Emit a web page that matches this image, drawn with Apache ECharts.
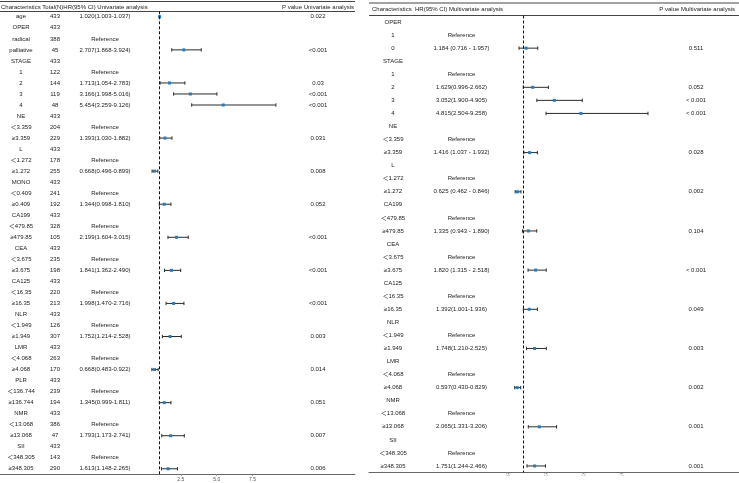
<!DOCTYPE html>
<html>
<head>
<meta charset="utf-8">
<script src="https://cdn.jsdelivr.net/npm/echarts@6/dist/echarts.min.js"></script>
<style>
  html, body { margin: 0; padding: 0; background: #fff; }
  #chart { width: 739px; height: 483px; }
</style>
</head>
<body>
<div id="chart"></div>
<script>
// ---- univariate table ----
const uniLabels = ['age', 'OPER', 'radical', 'palliative', 'STAGE', '1', '2', '3', '4',
  'NE', '＜3.359', '≥3.359', 'L', '＜1.272', '≥1.272', 'MONO', '＜0.409', '≥0.409',
  'CA199', '＜479.85', '≥479.85', 'CEA', '＜3.675', '≥3.675', 'CA125', '＜16.35', '≥16.35',
  'NLR', '＜1.949', '≥1.949', 'LMR', '＜4.068', '≥4.068', 'PLR', '＜136.744', '≥136.744',
  'NMR', '＜13.068', '≥13.068', 'SII', '＜348.305', '≥348.305'];
const uniTotal = [433, 433, 388, 45, 433, 122, 144, 119, 48,
  433, 204, 229, 433, 178, 255, 433, 241, 192,
  433, 328, 105, 433, 235, 198, 433, 220, 213,
  433, 126, 307, 433, 263, 170, 433, 239, 194,
  433, 386, 47, 433, 143, 290];
const uniHR = [1.020, null, null, 2.707, null, null, 1.713, 3.166, 5.454,
  null, null, 1.393, null, null, 0.668, null, null, 1.344,
  null, null, 2.199, null, null, 1.841, null, null, 1.998,
  null, null, 1.752, null, null, 0.668, null, null, 1.345,
  null, null, 1.793, null, null, 1.613];
const uniLow = [1.003, null, null, 1.868, null, null, 1.054, 1.998, 3.259,
  null, null, 1.030, null, null, 0.496, null, null, 0.998,
  null, null, 1.604, null, null, 1.362, null, null, 1.470,
  null, null, 1.214, null, null, 0.483, null, null, 0.999,
  null, null, 1.173, null, null, 1.148];
const uniHigh = [1.037, null, null, 3.924, null, null, 2.783, 5.016, 9.126,
  null, null, 1.882, null, null, 0.899, null, null, 1.810,
  null, null, 3.015, null, null, 2.490, null, null, 2.716,
  null, null, 2.528, null, null, 0.922, null, null, 1.811,
  null, null, 2.741, null, null, 2.265];
const uniHRText = ['1.020(1.003-1.037)', '', 'Reference', '2.707(1.868-3.924)', '', 'Reference',
  '1.713(1.054-2.783)', '3.166(1.998-5.016)', '5.454(3.259-9.126)',
  '', 'Reference', '1.393(1.030-1.882)', '', 'Reference', '0.668(0.496-0.899)',
  '', 'Reference', '1.344(0.998-1.810)', '', 'Reference', '2.199(1.604-3.015)',
  '', 'Reference', '1.841(1.362-2.490)', '', 'Reference', '1.998(1.470-2.716)',
  '', 'Reference', '1.752(1.214-2.528)', '', 'Reference', '0.668(0.483-0.922)',
  '', 'Reference', '1.345(0.999-1.811)', '', 'Reference', '1.793(1.173-2.741)',
  '', 'Reference', '1.613(1.148-2.265)'];
const uniP = ['0.022', '', '', '<0.001', '', '', '0.03', '<0.001', '<0.001',
  '', '', '0.031', '', '', '0.008', '', '', '0.052',
  '', '', '<0.001', '', '', '<0.001', '', '', '<0.001',
  '', '', '0.003', '', '', '0.014', '', '', '0.051',
  '', '', '0.007', '', '', '0.006'];
const uniTicks = [2.5, 5, 7.5];

// ---- multivariate table ----
const multiLabels = ['OPER', '1', '0', 'STAGE', '1', '2', '3', '4',
  'NE', '＜3.359', '≥3.359', 'L', '＜1.272', '≥1.272', 'CA199', '＜479.85', '≥479.85',
  'CEA', '＜3.675', '≥3.675', 'CA125', '＜16.35', '≥16.35', 'NLR', '＜1.949', '≥1.949',
  'LMR', '＜4.068', '≥4.068', 'NMR', '＜13.068', '≥13.068', 'SII', '＜348.305', '≥348.305'];
const multiHR = [null, null, 1.184, null, null, 1.629, 3.052, 4.815,
  null, null, 1.416, null, null, 0.625, null, null, 1.335,
  null, null, 1.820, null, null, 1.392, null, null, 1.748,
  null, null, 0.597, null, null, 2.065, null, null, 1.751];
const multiLow = [null, null, 0.716, null, null, 0.996, 1.900, 2.504,
  null, null, 1.037, null, null, 0.462, null, null, 0.943,
  null, null, 1.315, null, null, 1.001, null, null, 1.210,
  null, null, 0.430, null, null, 1.331, null, null, 1.244];
const multiHigh = [null, null, 1.957, null, null, 2.662, 4.905, 9.258,
  null, null, 1.932, null, null, 0.846, null, null, 1.890,
  null, null, 2.518, null, null, 1.936, null, null, 2.525,
  null, null, 0.829, null, null, 3.206, null, null, 2.466];
const multiHRText = ['', 'Reference', '1.184 (0.716 - 1.957)', '', 'Reference',
  '1.629(0.996-2.662)', '3.052(1.900-4.905)', '4.815(2.504-9.258)',
  '', 'Reference', '1.416 (1.037 - 1.932)', '', 'Reference', '0.625 (0.462 - 0.846)',
  '', 'Reference', '1.335 (0.943 - 1.890)', '', 'Reference', '1.820 (1.315 - 2.518)',
  '', 'Reference', '1.392(1.001-1.936)', '', 'Reference', '1.748(1.210-2.525)',
  '', 'Reference', '0.597(0.430-0.829)', '', 'Reference', '2.065(1.331-3.206)',
  '', 'Reference', '1.751(1.244-2.466)'];
const multiP = ['', '', '0.511', '', '', '0.052', '< 0.001', '< 0.001',
  '', '', '0.028', '', '', '0.002', '', '', '0.104',
  '', '', '< 0.001', '', '', '0.049', '', '', '0.003',
  '', '', '0.002', '', '', '0.001', '', '', '0.001'];
const multiTicks = [0, 2.5, 5, 7.5];

const FONT = '"Liberation Sans", Arial, "Noto Sans CJK SC", sans-serif';
const TXT = '#222';
const BLUE = '#2a7ab8';

// panel layout (pixels)
const panels = [
  { left: 0, width: 355, top: 11.3, height: 463, refX: 159.3, pxPerUnit: 14.35,
    cols: [21, 55, 105, 318], tickSize: 5, tickColor: '#555', tickMargin: 3 },
  { left: 369, width: 370, top: 15.5, height: 457, refX: 523.3, pxPerUnit: 15.1,
    cols: [393, 461.5, 696], tickSize: 3, tickColor: '#999', tickMargin: 1 }
];

function axisRange(p) {
  const min = 1 - (p.refX - p.left) / p.pxPerUnit;
  return { min: min, max: min + p.width / p.pxPerUnit };
}

function forestData(hr, lo, hi) {
  const out = [];
  hr.forEach((v, i) => { if (v != null) out.push([i, v, lo[i], hi[i]]); });
  return out;
}

function forestItem(params, api) {
  const row = api.value(0);
  const pm = api.coord([api.value(1), row]);
  const pl = api.coord([api.value(2), row]);
  const ph = api.coord([api.value(3), row]);
  const y = pm[1], c = 1.7;
  const st = { stroke: '#2b2b2b', lineWidth: 1 };
  return {
    type: 'group',
    children: [
      { type: 'line', shape: { x1: pl[0], y1: y, x2: ph[0], y2: y }, style: st },
      { type: 'line', shape: { x1: pl[0], y1: y - c, x2: pl[0], y2: y + c }, style: st },
      { type: 'line', shape: { x1: ph[0], y1: y - c, x2: ph[0], y2: y + c }, style: st },
      { type: 'rect', shape: { x: pm[0] - 1.5, y: y - 1.5, width: 3, height: 3 }, style: { fill: BLUE } }
    ]
  };
}

function textSeries(gridIndex, cols, columns) {
  const rows = columns[0].map((_, i) => [i, 1]);
  return {
    type: 'custom',
    xAxisIndex: gridIndex,
    yAxisIndex: gridIndex,
    silent: true,
    clip: false,
    encode: { x: 1, y: 0 },
    data: rows,
    renderItem: function (params, api) {
      const i = params.dataIndex;
      const y = api.coord([1, i])[1];
      return {
        type: 'group',
        children: columns.map((col, k) => ({
          type: 'text',
          x: cols[k],
          y: y,
          style: {
            text: String(col[i]),
            align: 'center',
            verticalAlign: 'middle',
            fontSize: 6,
            fontFamily: FONT,
            fill: TXT
          }
        }))
      };
    }
  };
}

const chart = echarts.init(document.getElementById('chart'), null, { renderer: 'canvas' });

const grids = panels.map(p => ({ left: p.left, top: p.top, width: p.width, height: p.height, containLabel: false }));
const xAxes = panels.map((p, k) => {
  const r = axisRange(p);
  const ticks = k === 0 ? uniTicks : multiTicks;
  return {
    type: 'value', gridIndex: k, min: r.min, max: r.max,
    splitLine: { show: false },
    axisLine: { show: true, lineStyle: { color: '#666', width: 1 } },
    axisTick: { show: true, length: 1.5, customValues: ticks, lineStyle: { color: '#888' } },
    axisLabel: {
      customValues: ticks, fontSize: p.tickSize, color: p.tickColor, margin: p.tickMargin,
      fontFamily: FONT, formatter: v => v.toFixed(1)
    }
  };
});
const yAxes = [uniLabels, multiLabels].map((labels, k) => ({
  type: 'category', gridIndex: k, inverse: true,
  data: labels.map((_, i) => i), show: false
}));

const refLine = {
  silent: true, symbol: 'none', label: { show: false },
  lineStyle: { type: [3, 2], color: '#111', width: 1 },
  data: [{ xAxis: 1 }]
};

const series = [
  {
    type: 'custom', xAxisIndex: 0, yAxisIndex: 0, silent: true, clip: false,
    encode: { x: [1, 2, 3], y: 0 },
    data: forestData(uniHR, uniLow, uniHigh),
    renderItem: forestItem,
    markLine: refLine
  },
  {
    type: 'custom', xAxisIndex: 1, yAxisIndex: 1, silent: true, clip: false,
    encode: { x: [1, 2, 3], y: 0 },
    data: forestData(multiHR, multiLow, multiHigh),
    renderItem: forestItem,
    markLine: refLine
  },
  textSeries(0, panels[0].cols, [uniLabels, uniTotal, uniHRText, uniP]),
  textSeries(1, panels[1].cols, [multiLabels, multiHRText, multiP])
];

const ruleStyle = { stroke: '#444', lineWidth: 1 };
const headStyle = { fontSize: 6, fontFamily: FONT, fill: TXT, verticalAlign: 'middle' };

chart.setOption({
  backgroundColor: '#fff',
  animation: false,
  grid: grids,
  xAxis: xAxes,
  yAxis: yAxes,
  series: series,
  graphic: [
    { type: 'line', shape: { x1: 0, y1: 1.5, x2: 355, y2: 1.5 }, style: ruleStyle, silent: true },
    { type: 'line', shape: { x1: 0, y1: 11.5, x2: 355, y2: 11.5 }, style: ruleStyle, silent: true },
    { type: 'text', x: 1, y: 7, style: Object.assign({ text: 'Characteristics Total(N)HR(95% CI) Univariate analysis', align: 'left' }, headStyle) },
    { type: 'text', x: 354, y: 7, style: Object.assign({ text: 'P value Univariate analysis', align: 'right' }, headStyle) },
    { type: 'line', shape: { x1: 369, y1: 3, x2: 739, y2: 3 }, style: ruleStyle, silent: true },
    { type: 'line', shape: { x1: 369, y1: 15.5, x2: 739, y2: 15.5 }, style: ruleStyle, silent: true },
    { type: 'text', x: 372, y: 9.5, style: Object.assign({ text: 'Characteristics  HR(95% CI) Multivariate analysis', align: 'left' }, headStyle) },
    { type: 'text', x: 735, y: 9.5, style: Object.assign({ text: 'P value Multivariate analysis', align: 'right' }, headStyle) }
  ]
});

window.addEventListener('resize', () => chart.resize());
</script>
</body>
</html>
